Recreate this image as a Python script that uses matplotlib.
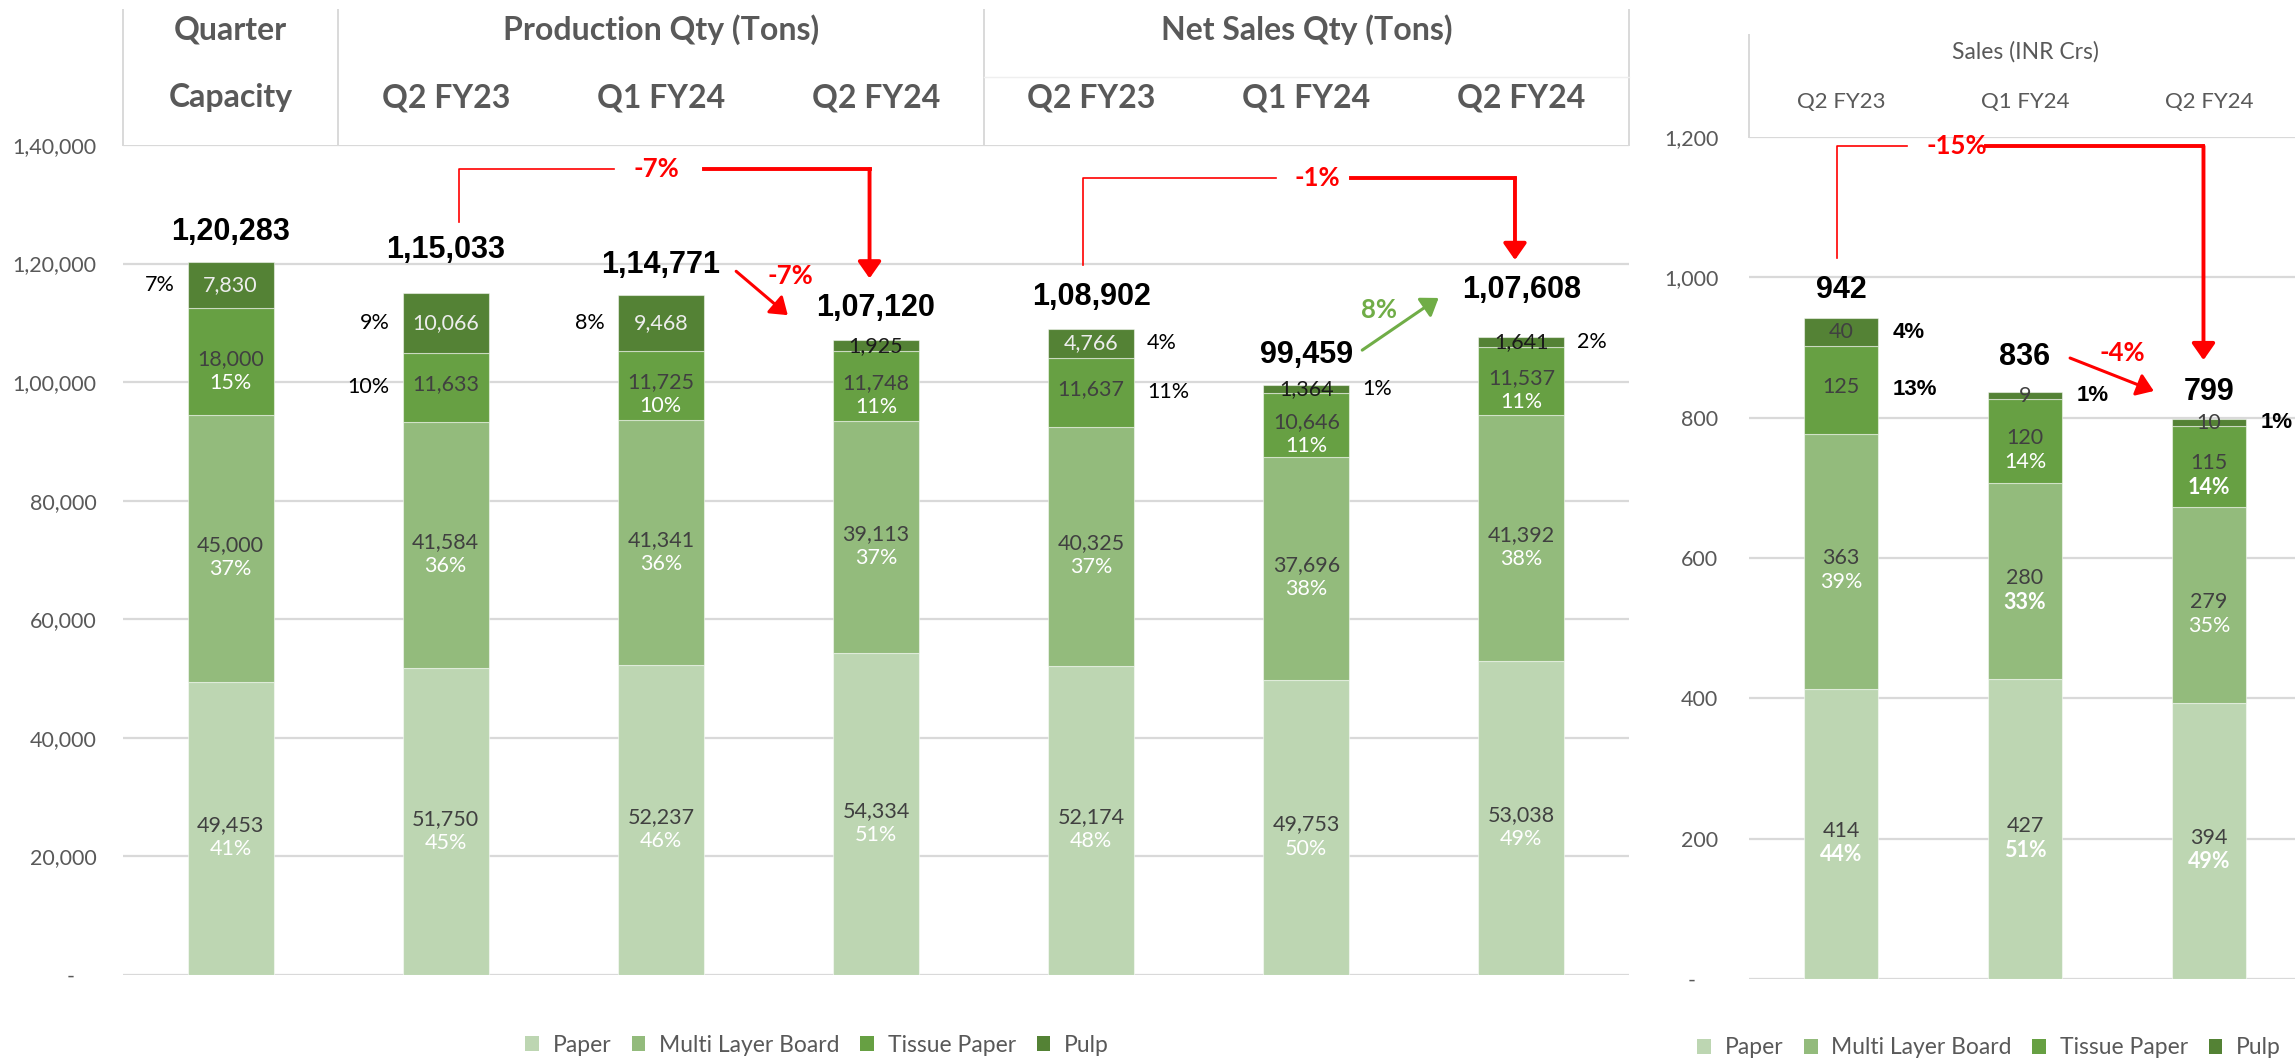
import matplotlib
matplotlib.use("Agg")
import matplotlib.pyplot as plt
from matplotlib.patches import Patch

plt.rcParams['font.family'] = ['Lato', 'DejaVu Sans']

# ---- data: left chart (tons) ----
head_top = ["Quarter", "Production Qty (Tons)", "Net Sales Qty (Tons)"]
cats = ["Capacity", "Q2 FY23", "Q1 FY24", "Q2 FY24", "Q2 FY23", "Q1 FY24", "Q2 FY24"]
paper = [49453, 51750, 52237, 54334, 52174, 49753, 53038]
mlb = [45000, 41584, 41341, 39113, 40325, 37696, 41392]
tissue = [18000, 11633, 11725, 11748, 11637, 10646, 11537]
pulp = [7830, 10066, 9468, 1925, 4766, 1364, 1641]
totals = [120283, 115033, 114771, 107120, 108902, 99459, 107608]
paper_pct = ["41%", "45%", "46%", "51%", "48%", "50%", "49%"]
mlb_pct = ["37%", "36%", "36%", "37%", "37%", "38%", "38%"]
tissue_pct = ["15%", "10%", "10%", "11%", "11%", "11%", "11%"]
pulp_pct = ["7%", "9%", "8%", "", "4%", "1%", "2%"]

# ---- data: right chart (INR Crs) ----
s_cats = ["Q2 FY23", "Q1 FY24", "Q2 FY24"]
s_paper = [414, 427, 394]
s_mlb = [363, 280, 279]
s_tissue = [125, 120, 115]
s_pulp = [40, 9, 10]
s_totals = [942, 836, 799]
s_paper_pct = ["44%", "51%", "49%"]
s_mlb_pct = ["39%", "33%", "35%"]
s_tissue_pct = ["13%", "14%", "14%"]
s_pulp_pct = ["4%", "1%", "1%"]

# label layout (where the % goes, offsets of totals in px)
tissue_where = ["in", "left", "in", "in", "right", "in", "in"]
pulp_where = ["left", "left", "left", "", "right", "right", "right"]
pulp_dark = [False, False, False, True, False, True, True]
tot_off = [30, 43, 30, 32, 32, 30, 47]
s_tissue_where = ["right", "in", "in"]
s_mlb_bold = [False, True, False]
s_tissue_bold = [True, False, True]
s_tot_off = [28, 35, 26]

C = ["#BDD6B2", "#93BB7C", "#67A043", "#548235"]
names = ["Paper", "Multi Layer Board", "Tissue Paper", "Pulp"]
GRID = "#D9D9D9"
GREY = "#595959"
DARK = "#404040"
RED = "#FF0000"
ARIAL = ['Liberation Sans', 'DejaVu Sans']


def fmt_in(n):
    s = str(int(n))
    if len(s) <= 3:
        return s
    head, tail = s[:-3], s[-3:]
    parts = []
    while len(head) > 2:
        parts.insert(0, head[-2:])
        head = head[:-2]
    if head:
        parts.insert(0, head)
    return ",".join(parts) + "," + tail


fig = plt.figure(figsize=(22.95, 10.61), dpi=100)
W, H = 2295, 1061
ax = fig.add_axes([123 / W, 1 - 975 / H, 1506 / W, 830 / H])
ax2 = fig.add_axes([1749 / W, 1 - 979 / H, 552 / W, 842 / H])

bw = 0.4


def stack(a, series, xs):
    bottoms = [0] * len(xs)
    for vals, col in zip(series, C):
        a.bar(xs, vals, bw, bottom=bottoms, color=col, edgecolor=(1, 1, 1, 0.5),
              linewidth=0.8, zorder=2)
        bottoms = [b + v for b, v in zip(bottoms, vals)]


def seg_label(a, x, y0, v, txt, pct, pct_color="white", bold=False, vcol=DARK, fs=15.5):
    c = y0 + v / 2
    a.annotate(txt, (x, c), xytext=(0, 3), textcoords="offset pixels",
               ha="center", va="center", fontsize=fs, color=vcol, zorder=5)
    if pct:
        a.annotate(pct, (x, c), xytext=(0, -21), textcoords="offset pixels",
                   ha="center", va="center", fontsize=fs, color=pct_color,
                   fontweight="bold" if bold else "normal", zorder=5)


def side_label(a, x, c, pct, where, gap=13, **kw):
    if where == "left":
        a.annotate(pct, (x - bw / 2, c), xytext=(-gap, 0), textcoords="offset pixels",
                   ha="right", va="center", zorder=5, **kw)
    else:
        a.annotate(pct, (x + bw / 2, c), xytext=(gap, 0), textcoords="offset pixels",
                   ha="left", va="center", zorder=5, **kw)


# ---------------- left chart ----------------
xs = list(range(len(cats)))
stack(ax, [paper, mlb, tissue, pulp], xs)
for i in xs:
    b1 = paper[i]
    b2 = b1 + mlb[i]
    b3 = b2 + tissue[i]
    seg_label(ax, i, 0, paper[i], fmt_in(paper[i]), paper_pct[i])
    seg_label(ax, i, b1, mlb[i], fmt_in(mlb[i]), mlb_pct[i])
    if tissue_where[i] == "in":
        seg_label(ax, i, b2, tissue[i], fmt_in(tissue[i]), tissue_pct[i])
    else:
        seg_label(ax, i, b2, tissue[i], fmt_in(tissue[i]), "")
        side_label(ax, i, b2 + tissue[i] / 2, tissue_pct[i], tissue_where[i],
                   fontsize=15.5, color="black")
    pc = b3 + pulp[i] / 2
    ax.annotate(fmt_in(pulp[i]), (i, pc), xytext=(0, 0), textcoords="offset pixels",
                ha="center", va="center", fontsize=15.5,
                color="#1a1a1a" if pulp_dark[i] else "#EDEDED", zorder=5)
    if pulp_where[i]:
        side_label(ax, i, pc, pulp_pct[i], pulp_where[i], fontsize=15.5, color="black")
    ax.annotate(fmt_in(totals[i]), (i, totals[i]), xytext=(0, tot_off[i]),
                textcoords="offset pixels", ha="center", va="center", fontsize=22,
                fontweight="bold", family=ARIAL, color="black", zorder=5)

ax.set_xlim(-0.5, len(cats) - 0.5)
ax.set_ylim(0, 140000)
ax.set_yticks(range(0, 140001, 20000))
ax.set_yticklabels([fmt_in(t) if t else "-    " for t in range(0, 140001, 20000)])

# ---------------- right chart ----------------
sx = list(range(len(s_cats)))
stack(ax2, [s_paper, s_mlb, s_tissue, s_pulp], sx)
for i in sx:
    b1 = s_paper[i]
    b2 = b1 + s_mlb[i]
    b3 = b2 + s_tissue[i]
    seg_label(ax2, i, 0, s_paper[i], str(s_paper[i]), s_paper_pct[i], bold=True)
    seg_label(ax2, i, b1, s_mlb[i], str(s_mlb[i]), s_mlb_pct[i], bold=s_mlb_bold[i])
    if s_tissue_where[i] == "in":
        seg_label(ax2, i, b2, s_tissue[i], str(s_tissue[i]), s_tissue_pct[i],
                  bold=s_tissue_bold[i])
    else:
        seg_label(ax2, i, b2, s_tissue[i], str(s_tissue[i]), "")
        side_label(ax2, i, b2 + s_tissue[i] / 2, s_tissue_pct[i], "right", gap=15,
                   fontsize=16, color="black", fontweight="bold", family=ARIAL)
    pc = b3 + s_pulp[i] / 2
    ax2.annotate(str(s_pulp[i]), (i, pc), ha="center", va="center", fontsize=15.5,
                 color=DARK, zorder=5)
    side_label(ax2, i, pc, s_pulp_pct[i], "right", gap=15, fontsize=16, color="black",
               fontweight="bold", family=ARIAL)
    ax2.annotate(str(s_totals[i]), (i, s_totals[i]), xytext=(0, s_tot_off[i]),
                 textcoords="offset pixels", ha="center", va="center", fontsize=22,
                 fontweight="bold", family=ARIAL, color="black", zorder=5)

ax2.set_xlim(-0.5, len(s_cats) - 0.5)
ax2.set_ylim(0, 1200)
ax2.set_yticks(range(0, 1201, 200))
ax2.set_yticklabels([fmt_in(t) if t else "-    " for t in range(0, 1201, 200)])

for a, pad in ((ax, 19), (ax2, 22)):
    for s in a.spines.values():
        s.set_visible(False)
    a.set_xticks([])
    a.tick_params(axis="y", length=0, pad=pad, labelsize=15.5, labelcolor=GREY)
    a.yaxis.grid(True, color=GRID, linewidth=1.6)
    a.set_axisbelow(True)

# ---------------- header tables ----------------
tr = ax.get_xaxis_transform()
for xb in [-0.5, 0.5, 3.5, 6.5]:
    ax.plot([xb, xb], [1.0, 1.163], transform=tr, color=GRID, lw=1.4, clip_on=False)
ax.plot([3.5, 6.5], [1.082, 1.082], transform=tr, color="#EFEFEF", lw=1, clip_on=False)
for txt, xc in zip(head_top, [0, 2, 5]):
    ax.text(xc, 1.139, txt, transform=tr, ha="center", va="center", fontsize=23,
            fontweight="bold", color=GREY)
for i, txt in enumerate(cats):
    ax.text(i, 1.057, txt, transform=tr, ha="center", va="center", fontsize=23,
            fontweight="bold", color=GREY)

tr2 = ax2.get_xaxis_transform()
ax2.plot([-0.5, -0.5], [1.0, 1.121], transform=tr2, color=GRID, lw=1.4, clip_on=False)
ax2.text(1, 1.101, "Sales (INR Crs)", transform=tr2, ha="center", va="center",
         fontsize=16.5, color=GREY)
for i, txt in enumerate(s_cats):
    ax2.text(i, 1.042, txt, transform=tr2, ha="center", va="center", fontsize=16,
             color=GREY)

# ---------------- change arrows ----------------
head = "-|>,head_length=0.5,head_width=0.35"


def bracket(a, x0, y0, ytop, xthin, xlab, xthick, x1, ytip, label):
    a.plot([x0, x0, xthin], [y0, ytop, ytop], color=RED, lw=1.2, zorder=4, clip_on=False)
    a.plot([xthick, x1], [ytop, ytop], color=RED, lw=2.8, zorder=4, clip_on=False)
    a.annotate("", xy=(x1, ytip), xytext=(x1, ytop),
               arrowprops=dict(arrowstyle=head, color=RED, lw=2.8, shrinkA=0,
                               shrinkB=0, mutation_scale=20), zorder=4)
    a.text(xlab, ytop, label, ha="center", va="center", fontsize=18.5,
           fontweight="bold", color=RED, zorder=5)


def diag(a, p0, p1, lab_xy, label, col):
    a.annotate("", xy=p1, xytext=p0,
               arrowprops=dict(arrowstyle=head, color=col, lw=2.2, shrinkA=0,
                               shrinkB=0, mutation_scale=20), zorder=4)
    a.text(lab_xy[0], lab_xy[1], label, ha="center", va="center", fontsize=18.5,
           fontweight="bold", color=col, zorder=5)


bracket(ax, 1.064, 127000, 135900, 1.78, 1.98, 2.20, 2.97, 117500, "-7%")
bracket(ax, 3.96, 119700, 134400, 4.86, 5.05, 5.21, 5.97, 120600, "-1%")
diag(ax, (2.35, 118700), (2.59, 111300), (2.60, 117900), "-7%", RED)
diag(ax, (5.26, 105400), (5.615, 114200), (5.34, 112200), "8%", "#70AD47")
bracket(ax2, -0.02, 1027, 1187, 0.36, 0.63, 0.79, 1.97, 882, "-15%")
diag(ax2, (1.245, 885), (1.70, 838), (1.53, 892), "-4%", RED)

# ---------------- legends ----------------
handles = [Patch(facecolor=c, edgecolor="none") for c in C]
for cx, cy in ((817, 1045), (1989, 1048)):
    fig.legend(handles, names, loc="center", bbox_to_anchor=(cx / W, 1 - cy / H),
               ncol=4, frameon=False, fontsize=16.5, labelcolor=GREY,
               handlelength=0.6, handleheight=0.6, handletextpad=0.6,
               columnspacing=0.9)

fig.savefig("out.png", dpi=100)
